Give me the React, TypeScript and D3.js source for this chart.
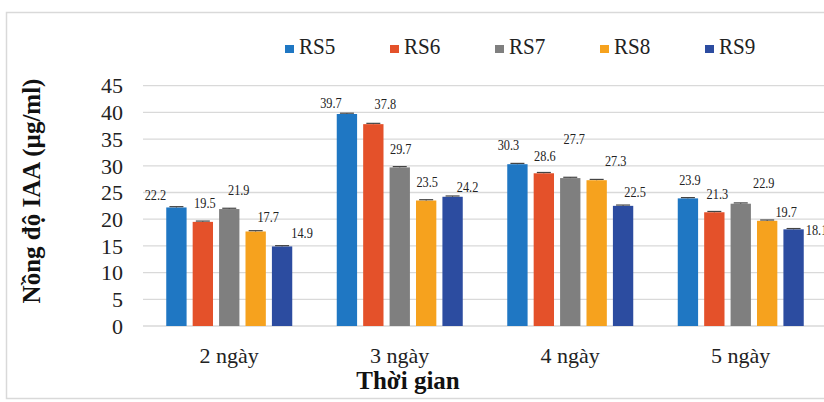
import React from 'react';
import * as d3 from 'd3';

const categories = ['2 ngày', '3 ngày', '4 ngày', '5 ngày'];
const seriesNames = ['RS5', 'RS6', 'RS7', 'RS8', 'RS9'];
const RS5 = [22.2, 39.7, 30.3, 23.9];
const RS6 = [19.5, 37.8, 28.6, 21.3];
const RS7 = [21.9, 29.7, 27.7, 22.9];
const RS8 = [17.7, 23.5, 27.3, 19.7];
const RS9 = [14.9, 24.2, 22.5, 18.1];
const RS5err = [0.15, 0.15, 0.15, 0.15];
const RS6err = [0.15, 0.15, 0.15, 0.15];
const RS7err = [0.15, 0.15, 0.15, 0.15];
const RS8err = [0.15, 0.15, 0.15, 0.15];
const RS9err = [0.15, 0.15, 0.15, 0.15];
const yTicks = [0, 5, 10, 15, 20, 25, 30, 35, 40, 45];
const yTitle = 'Nồng độ IAA (µg/ml)';
const xTitle = 'Thời gian';

const seriesValues = [RS5, RS6, RS7, RS8, RS9];
const seriesErrors = [RS5err, RS6err, RS7err, RS8err, RS9err];
const colors = ['#1f77c3', '#e4512a', '#7f7f7f', '#f6a21e', '#2c4ca0'];

// manual label nudges (dx, dy relative to bar top centre), per category then series
const labelNudge: [number, number][][] = [
  [[-21, -12.5], [2, -19], [9.5, -19], [12.5, -14.5], [20, -14]],
  [[-16, -11], [12, -20], [1, -19], [1, -18.5], [15, -10]],
  [[-9, -19], [1, -18], [4, -39], [19, -19], [12, -14]],
  [[2, -19], [3, -19], [23, -21], [19, -9], [23, 0]],
];

const W = 824;
const H = 402;
const serif = '"Liberation Serif", "Times New Roman", serif';

export default function App() {
  const x = d3.scaleBand<string>().domain(categories).range([144, 826]).padding(0);
  const bw = x.bandwidth();
  const xs = d3
    .scaleBand<string>()
    .domain(seriesNames)
    .range([bw / 2 - 63, bw / 2 + 63])
    .paddingInner(0.23)
    .paddingOuter(0);
  const y = d3.scaleLinear().domain([0, 45]).range([326, 85.7]);

  return (
    <svg
      width={W}
      height={H}
      style={{ position: 'absolute', left: 0, top: 0, background: '#fff' }}
      fontFamily={serif}
    >
      <rect x={0} y={0} width={W} height={H} fill="#fff" />
      <rect x={6.5} y={12.5} width={W + 10} height={386} fill="none" stroke="#d9d9d9" strokeWidth={1.5} />

      {/* gridlines */}
      {yTicks.map((t) => (
        <line key={t} x1={143} x2={W} y1={y(t)} y2={y(t)} stroke="#d9d9d9" strokeWidth={1.3} />
      ))}
      {/* y tick labels */}
      {yTicks.map((t) => (
        <text key={'t' + t} x={123} y={y(t)} dy="0.35em" textAnchor="end" fontSize={22} fill="#222">
          {t}
        </text>
      ))}

      {/* bars */}
      {categories.map((c, ci) => (
        <g key={c} transform={`translate(${x(c)},0)`}>
          {seriesNames.map((s, si) => {
            const v = seriesValues[si][ci];
            const e = seriesErrors[si][ci];
            const bx = xs(s)!;
            const bwid = xs.bandwidth();
            const cx = bx + bwid / 2;
            const [ndx, ndy] = labelNudge[ci][si];
            const lx = cx + ndx;
            const ly = y(v) + ndy;
            return (
              <g key={s}>
                <rect x={bx} y={y(v)} width={bwid} height={y(0) - y(v)} fill={colors[si]} />
                <line x1={cx} x2={cx} y1={y(v)} y2={y(v + e)} stroke="#444" strokeWidth={1} />
                <line x1={cx - 7} x2={cx + 7} y1={y(v + e)} y2={y(v + e)} stroke="#444" strokeWidth={1.2} />
                <text
                  transform={`translate(${lx},${ly}) scale(0.82,1)`}
                  dy="0.35em"
                  textAnchor="middle"
                  fontSize={15}
                  fill="#222"
                >
                  {v.toFixed(1)}
                </text>
              </g>
            );
          })}
        </g>
      ))}

      {/* category labels */}
      {categories.map((c) => (
        <text key={'c' + c} x={x(c)! + bw / 2} y={363} textAnchor="middle" fontSize={22} fill="#222">
          {c}
        </text>
      ))}

      {/* axis titles */}
      <text x={408} y={389} textAnchor="middle" fontSize={25} fontWeight="bold" fill="#111">
        {xTitle}
      </text>
      <text
        transform={`translate(40,191) rotate(-90)`}
        textAnchor="middle"
        fontSize={25}
        fontWeight="bold"
        fill="#111"
      >
        {yTitle}
      </text>

      {/* legend */}
      {seriesNames.map((s, i) => {
        const lx = 285 + i * 105;
        return (
          <g key={'l' + s} transform={`translate(${lx},0)`}>
            <rect x={0} y={45} width={9} height={8} fill={colors[i]} />
            <text transform="translate(14,54) scale(0.88,1)" fontSize={24} fill="#222">
              {s}
            </text>
          </g>
        );
      })}
    </svg>
  );
}
